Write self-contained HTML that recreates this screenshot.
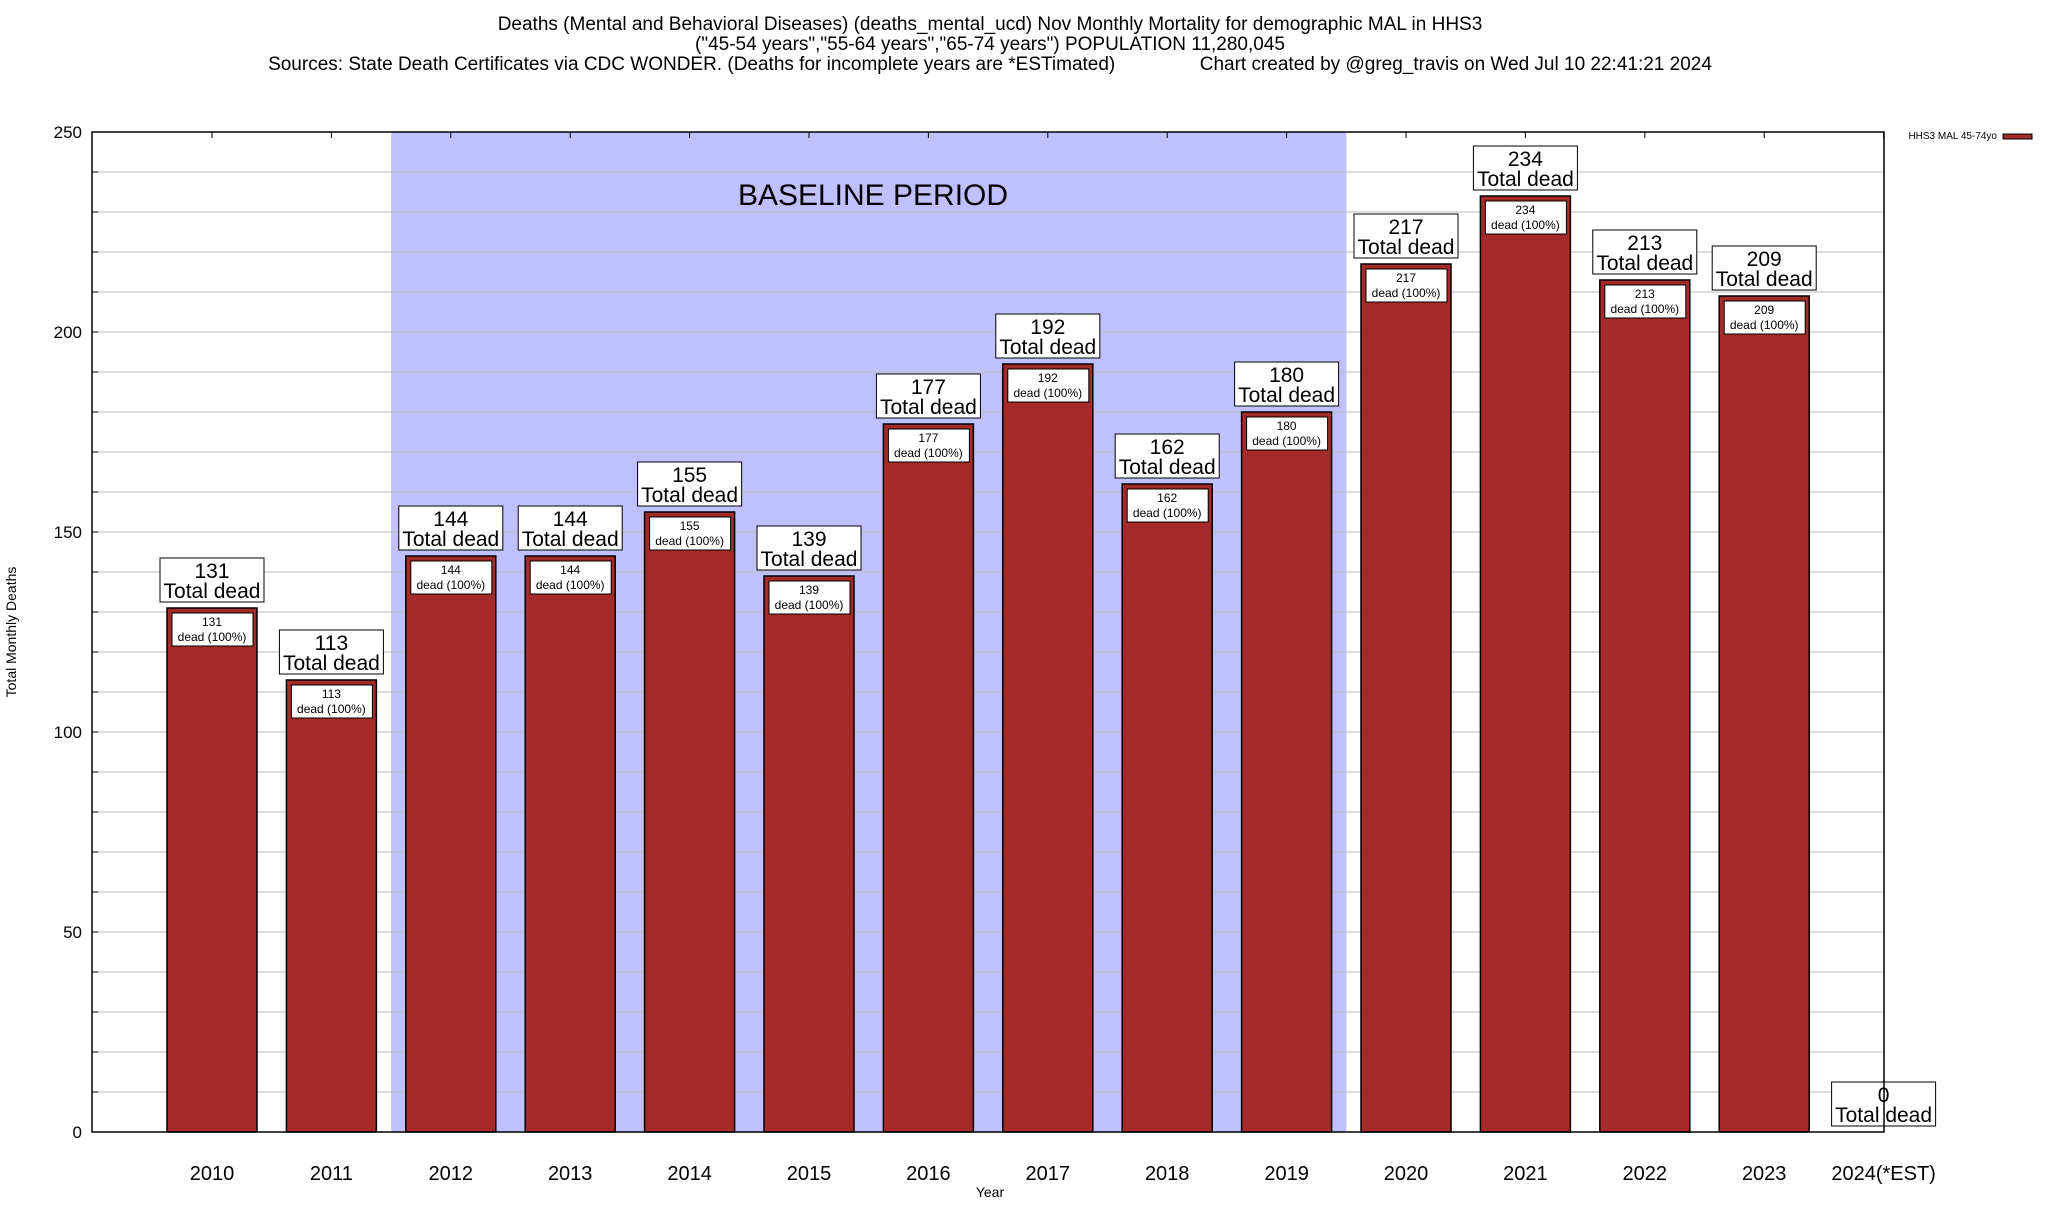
<!DOCTYPE html>
<html><head><meta charset="utf-8"><style>
html,body{margin:0;padding:0;background:#fff;}
svg text{font-family:"Liberation Sans",sans-serif;}
</style></head><body>
<svg id="chart" width="2048" height="1200" viewBox="0 0 2048 1200" xmlns="http://www.w3.org/2000/svg">
<g font-size="19" text-anchor="middle">
<text x="990" y="30">Deaths (Mental and Behavioral Diseases) (deaths_mental_ucd) Nov Monthly Mortality for demographic MAL in HHS3</text>
<text x="990" y="50">("45-54 years","55-64 years","65-74 years") POPULATION 11,280,045</text>
<text x="990" y="70" xml:space="preserve">Sources: State Death Certificates via CDC WONDER. (Deaths for incomplete years are *ESTimated)                Chart created by @greg_travis on Wed Jul 10 22:41:21 2024</text>
</g>
<g id="plot"></g>
<text x="16" y="632" transform="rotate(-90 16 632)" font-size="14" text-anchor="middle">Total Monthly Deaths</text>
<text x="990" y="1197" font-size="14" text-anchor="middle">Year</text>
<g>
<text x="1997" y="139" font-size="10" text-anchor="end">HHS3 MAL 45-74yo</text>
<rect x="2003" y="134" width="29" height="5" fill="#a52a2a" stroke="#000" stroke-width="1"/>
</g>
</svg>
<script>
const years = ["2010","2011","2012","2013","2014","2015","2016","2017","2018","2019","2020","2021","2022","2023","2024(*EST)"];
const deaths = [131,113,144,144,155,139,177,192,162,180,217,234,213,209,0];
const yTicks = [0,50,100,150,200,250];
const baselineStart = 2.5, baselineEnd = 10.5;

const NS = "http://www.w3.org/2000/svg";
const L = 92, R = 1884, T = 132, B = 1132;
const yMax = 250;
const slot = 119.4;
function xPos(i){ return 212 + i*slot; }
function yPos(v){ return B - v*(B-T)/yMax; }
const g = document.getElementById('plot');
function mk(tag, attrs, parent){
  const e = document.createElementNS(NS, tag);
  for (const k in attrs) e.setAttribute(k, attrs[k]);
  (parent||g).appendChild(e);
  return e;
}
// baseline shade
const sh = mk('rect',{x:xPos(baselineStart-1)+0, y:T, width:(baselineEnd-baselineStart)*slot, height:B-T, fill:'#c0c0ff'});


sh.setAttribute('x', xPos(baselineStart-1) + slot*0 );
sh.setAttribute('x', 212 + (baselineStart-1)*slot);
const bt = mk('text',{x:873, y:205, 'font-size':30, 'text-anchor':'middle'});
bt.textContent = 'BASELINE PERIOD';


// gridlines
for (let v = 10; v < yMax; v += 10) {
  const gl = mk('line',{x1:L, x2:R, y1:yPos(v), y2:yPos(v), stroke:'#bbb', 'stroke-width':1});
  
  
  const tk = mk('line',{x1:L, x2:L+6, y1:yPos(v), y2:yPos(v), stroke:'#000'});
  
  
}
yTicks.forEach(v => {
  const t = mk('text',{x:82, y:yPos(v)+6, 'font-size':17, 'text-anchor':'end'});
  t.textContent = v;
  
  
});
// bars
years.forEach((yr, i) => {
  const cx = xPos(i), v = deaths[i];
  const yt = yPos(v);
  if (v > 0) {
    const b = mk('rect',{x:cx-45, y:yt, width:90, height:B-yt, fill:'#a52a2a', stroke:'#000', 'stroke-width':1.5});
    
    
    const ib = mk('rect',{x:cx-40, y:yt+5, width:81, height:33, fill:'#fff', stroke:'#000', 'stroke-width':1});
    
    
    const t1 = mk('text',{x:cx, y:yt+18, 'font-size':12, 'text-anchor':'middle'});
    t1.textContent = v;
    
    
    const t2 = mk('text',{x:cx, y:yt+33, 'font-size':12, 'text-anchor':'middle'});
    t2.textContent = 'dead (100%)';
    
    
  }
  const ob = mk('rect',{x:cx-52, y:yt-50, width:104, height:44, fill:'#fff', stroke:'#000', 'stroke-width':1});
  
  
  const o1 = mk('text',{x:cx, y:yt-30, 'font-size':21, 'text-anchor':'middle'});
  o1.textContent = v;
  
  
  const o2 = mk('text',{x:cx, y:yt-10, 'font-size':21, 'text-anchor':'middle'});
  o2.textContent = 'Total dead';
  
  
  const xl = mk('text',{x:cx, y:1180, 'font-size':20, 'text-anchor':'middle'});
  xl.textContent = yr;
  
  
  const xt = mk('line',{x1:cx, x2:cx, y1:T, y2:T+6, stroke:'#000'});
  
  
});
const fr = mk('rect',{x:L, y:T, width:R-L, height:B-T, fill:'none', stroke:'#000', 'stroke-width':1.5});


</script>
</body></html>
